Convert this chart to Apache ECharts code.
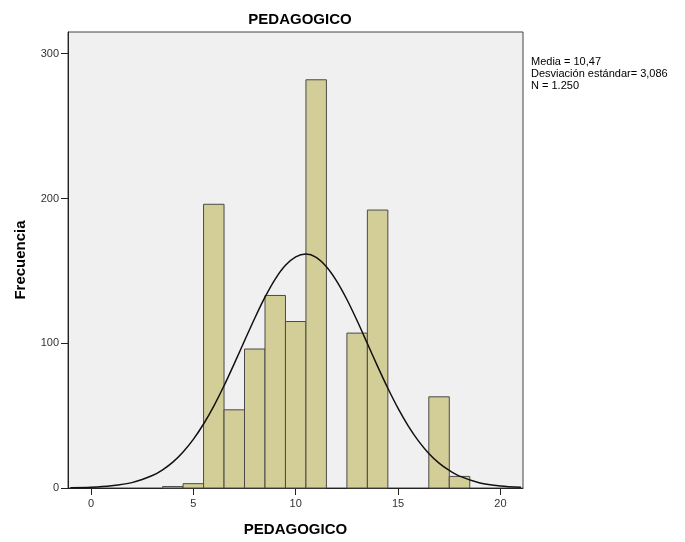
<!DOCTYPE html>
<html>
<head>
<meta charset="utf-8">
<script src="https://cdn.jsdelivr.net/npm/echarts@6/dist/echarts.min.js"></script>
<style>
  html, body { margin: 0; padding: 0; background: #fff; }
  #Chart { width: 685px; height: 542px; }
</style>
</head>
<body>
<div id="Chart"></div>
<script>
// histograma PEDAGOGICO
var binCenters = [4, 5, 6, 7, 8, 9, 10, 11, 12, 13, 14, 15, 16, 17, 18];
var counts = [1, 3, 196, 54, 96, 133, 115, 282, 0, 107, 192, 0, 0, 63, 8];
// curva normal
var curveX = [-1, 0, 1, 2, 3, 3.5, 4, 4.5, 5, 5.5, 6, 6.5, 7, 7.5, 8, 8.5, 9, 9.5, 10, 10.5,
    11, 11.5, 12, 12.5, 13, 13.5, 14, 14.5, 15, 15.5, 16, 16.5, 17, 17.5, 18, 19, 20, 21];
var curveY = [0.2, 0.5, 1.5, 3.7, 8.6, 12.6, 17.9, 24.9, 33.6, 44.2, 56.6, 70.6, 85.9, 101.7, 117.3, 131.8, 144.3, 153.8, 159.7, 161.6,
    159.3, 152.8, 142.9, 130.2, 115.5, 99.8, 84.0, 68.9, 55.0, 42.8, 32.4, 23.9, 17.2, 12.1, 8.2, 3.5, 1.4, 0.5];
var xTicks = [0, 5, 10, 15, 20];
var yTicks = [0, 100, 200, 300];
var statLines = ['Media = 10,47', 'Desviación estándar= 3,086', 'N = 1.250'];

var barFill = "#d3ce97";
var barLine = "#4a4a4a";

var barData = [];
for (var i = 0; i < binCenters.length; i++) {
    if (counts[i] > 0) {
        barData.push([binCenters[i], counts[i]]);
    }
}
var curveData = [];
for (var j = 0; j < curveX.length; j++) {
    curveData.push([curveX[j], curveY[j]]);
}

var myChart = echarts.init(document.getElementById("Chart"));
var option = {
    animation: false,
    textStyle: { fontFamily: 'Liberation Sans, Arial, sans-serif' },
    title: {
        text: 'PEDAGOGICO',
        left: 295,
        textAlign: 'center',
        top: 7,
        textStyle: { fontSize: 15, fontWeight: 'bold', color: '#000' }
    },
    graphic: [{
        type: 'text',
        left: 531,
        top: 56,
        style: {
            text: statLines.join('\n'),
            font: '11px "Liberation Sans", Arial, sans-serif',
            lineHeight: 12,
            fill: '#000'
        }
    }],
    grid: {
        left: 68,
        right: 162,
        top: 32,
        bottom: 52,
        show: true,
        backgroundColor: '#f0f0f0',
        borderColor: '#444',
        borderWidth: 1
    },
    xAxis: {
        type: 'value',
        min: -1.12,
        max: 21.1,
        name: 'PEDAGOGICO',
        nameLocation: 'middle',
        nameGap: 34,
        nameTextStyle: { fontSize: 15, fontWeight: 'bold', color: '#000' },
        axisLine: { show: true, onZero: false, lineStyle: { color: '#222' } },
        axisTick: { show: true, length: 7, customValues: xTicks, lineStyle: { color: '#222' } },
        axisLabel: { customValues: xTicks, fontSize: 11, color: '#333', margin: 10 },
        splitLine: { show: false }
    },
    yAxis: {
        type: 'value',
        min: 0,
        max: 315,
        name: 'Frecuencia',
        nameLocation: 'middle',
        nameGap: 40,
        nameTextStyle: { fontSize: 15, fontWeight: 'bold', color: '#000' },
        axisLine: { show: true, onZero: false, lineStyle: { color: '#222' } },
        axisTick: { show: true, length: 7, customValues: yTicks, lineStyle: { color: '#222' } },
        axisLabel: { customValues: yTicks, fontSize: 11, color: '#333', margin: 9 },
        splitLine: { show: false }
    },
    series: [
        {
            type: 'custom',
            data: barData,
            encode: { x: 0, y: 1 },
            renderItem: function (params, api) {
                var x = api.value(0);
                var y = api.value(1);
                var p0 = api.coord([x - 0.5, y]);
                var p1 = api.coord([x + 0.5, 0]);
                return {
                    type: 'rect',
                    shape: { x: p0[0], y: p0[1], width: p1[0] - p0[0], height: p1[1] - p0[1] },
                    style: { fill: barFill, stroke: barLine, lineWidth: 1 }
                };
            }
        },
        {
            type: 'line',
            data: curveData,
            smooth: 0.3,
            showSymbol: false,
            lineStyle: { color: '#111', width: 1.5 },
            z: 5
        }
    ]
};
myChart.setOption(option);
window.addEventListener("resize", function () {
    myChart.resize();
});
</script>
</body>
</html>
